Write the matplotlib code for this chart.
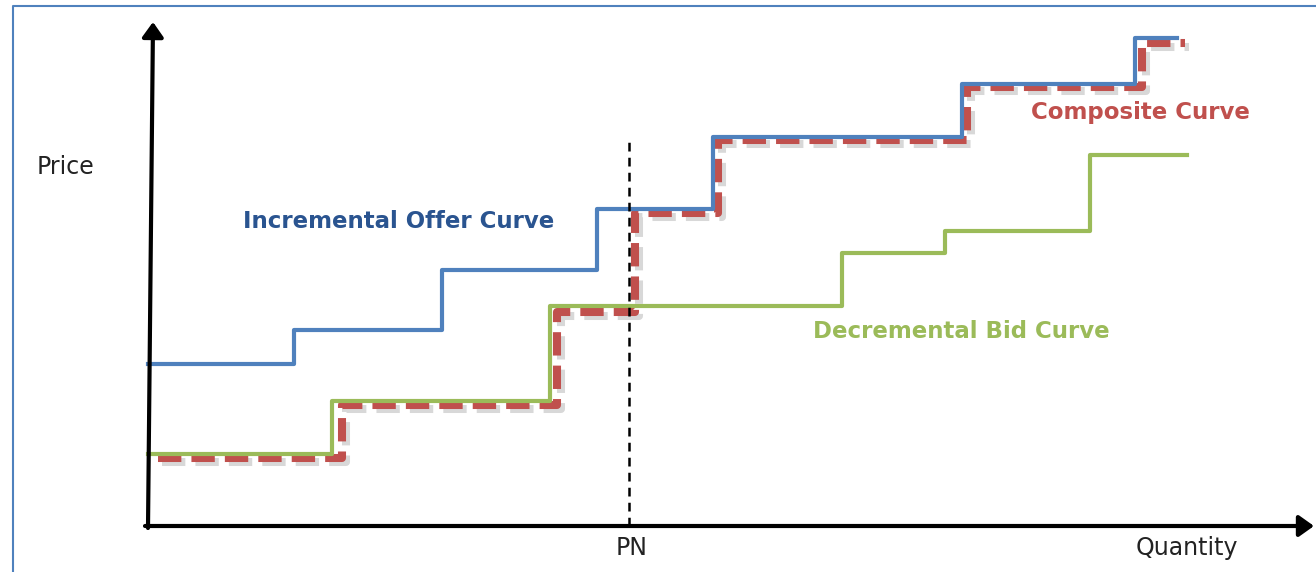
import numpy as np
import matplotlib.pyplot as plt
import matplotlib.patheffects as pe
from matplotlib.lines import Line2D

# step curves: edges along the quantity axis, price level of each step
offer_edges = [0, 146, 294, 449, 565, 814, 987, 1029]
offer_prices = [162, 196, 256, 317, 389, 442, 488]

bid_edges = [0, 184, 402, 694, 797, 942, 1039]
bid_prices = [72, 125, 220, 273, 295, 371]

comp_edges = [10, 194, 409, 487, 570, 819, 994, 1037]
comp_prices = [68, 121, 214, 313, 386, 439, 483]

pn = 483

blue = "#4F81BD"
green = "#9BBB59"
red = "#C0504D"

fig = plt.figure(figsize=(13.16, 5.72), dpi=100)
ax = fig.add_axes([0, 0, 1, 1])
ax.set_xlim(-148, 1168)
ax.set_ylim(-46, 526)
ax.axis("off")

# page frame (left and top only)
fig.add_artist(Line2D([13 / 1316, 13 / 1316, 1], [0, 1 - 6 / 572, 1 - 6 / 572],
                      color=blue, lw=1.5, transform=fig.transFigure))

# composite curve, dashed with a soft shadow
ax.step(comp_edges, comp_prices + [comp_prices[-1]], where="post", color=red, lw=5.8,
        linestyle=(0, (2.9, 1.25)), solid_capstyle="butt", zorder=2,
        path_effects=[pe.SimpleLineShadow(offset=(3, -3), shadow_color="gray", alpha=0.3),
                      pe.Normal()])

ax.step(offer_edges, offer_prices + [offer_prices[-1]], where="post", color=blue, lw=3, zorder=3)
ax.step(bid_edges, bid_prices + [bid_prices[-1]], where="post", color=green, lw=3, zorder=3)

# PN marker
ax.plot([pn - 2, pn - 2], [0, 386], color="black", lw=1.8, linestyle=(0, (3.5, 2.5)), zorder=4)

# axes with arrows
ax.annotate("", xy=(1166, 0), xytext=(-3, 0),
            arrowprops=dict(arrowstyle="-|>,head_length=0.45,head_width=0.32",
                            mutation_scale=20, lw=3, color="black", shrinkA=0, shrinkB=0))
ax.annotate("", xy=(5, 504), xytext=(0, -2),
            arrowprops=dict(arrowstyle="-|>,head_length=0.45,head_width=0.32",
                            mutation_scale=20, lw=3, color="black", shrinkA=0, shrinkB=0))

ax.text(-111, 359, "Price", fontsize=17, color="#222222", va="center", ha="left")
ax.text(484, -22, "PN", fontsize=17, color="#222222", va="center", ha="center")
ax.text(1039, -22, "Quantity", fontsize=17, color="#222222", va="center", ha="center")

ax.text(95, 305, "Incremental Offer Curve", fontsize=16.5, fontweight="bold",
        family="DejaVu Sans", color="#2A5490", va="center", ha="left")
ax.text(883, 413, "Composite Curve", fontsize=16.5, fontweight="bold",
        family="DejaVu Sans", color=red, va="center", ha="left")
ax.text(665, 195, "Decremental Bid Curve", fontsize=16.5, fontweight="bold",
        family="DejaVu Sans", color=green, va="center", ha="left")

fig.savefig("out.png", dpi=100)
